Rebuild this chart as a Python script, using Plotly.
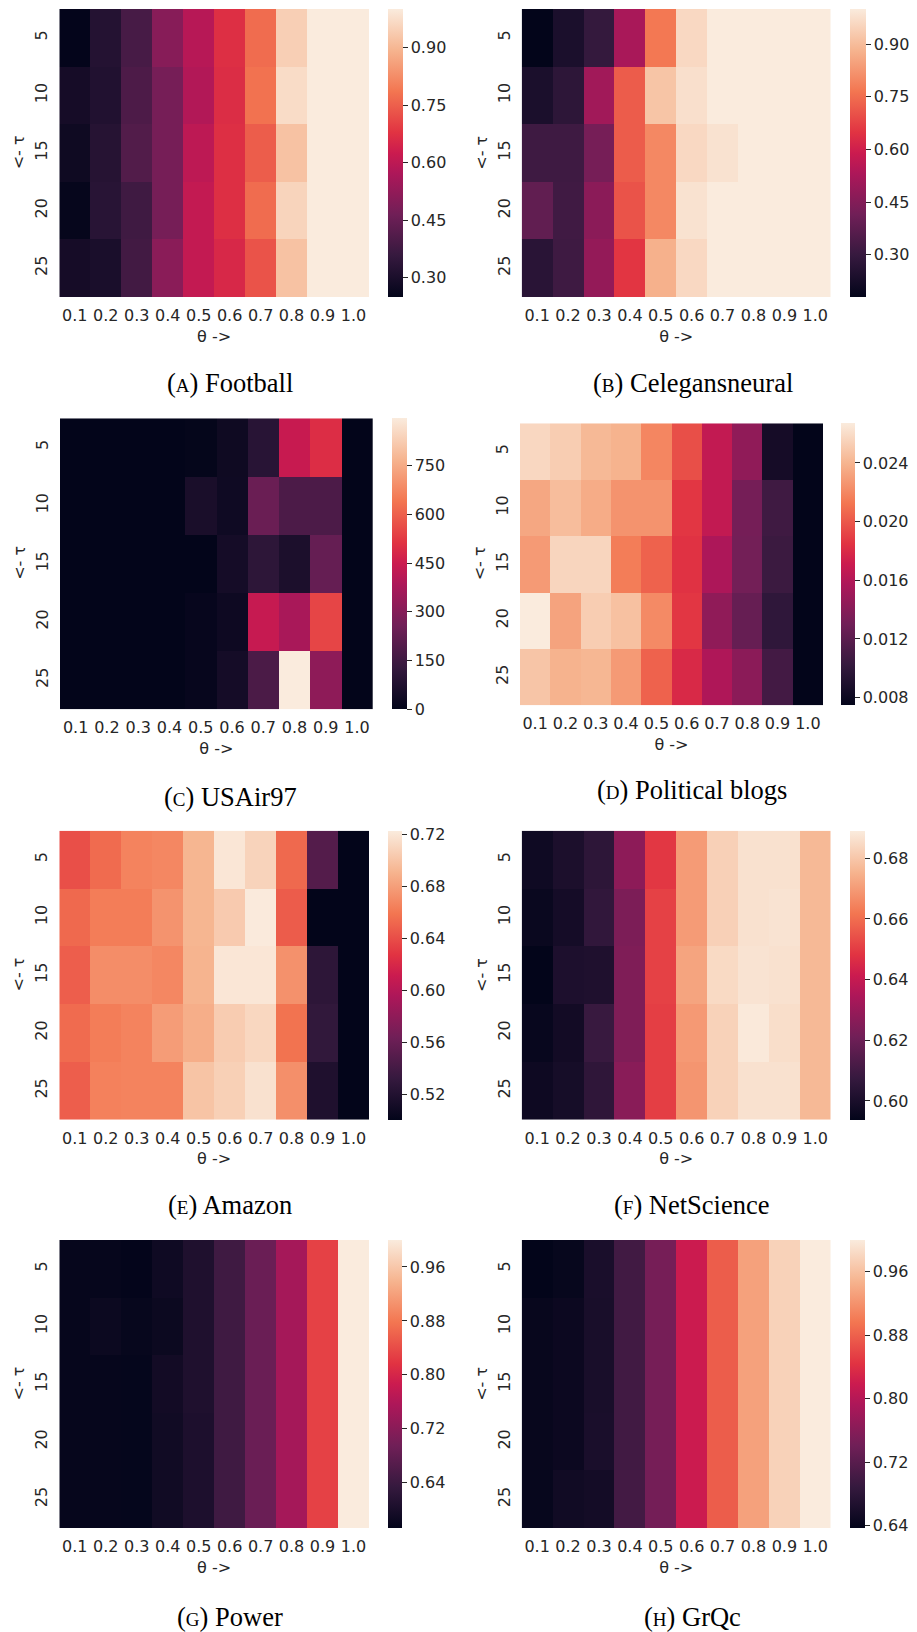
import plotly.graph_objects as go

# The page body has an 8px default margin; the figure is sized and laid out
# so that it fills the 917x1632 window exactly.
PAGE_W, PAGE_H = 917, 1632
OFF = 8
W, H = PAGE_W - OFF, PAGE_H - OFF

theta_labels = ["0.1", "0.2", "0.3", "0.4", "0.5", "0.6", "0.7", "0.8", "0.9", "1.0"]
tau_labels = ["5", "10", "15", "20", "25"]

football = [
    [0.252, 0.32, 0.39, 0.505, 0.59, 0.67, 0.77, 0.945, 1.0, 1.0],
    [0.29, 0.315, 0.40, 0.475, 0.58, 0.665, 0.78, 0.97, 1.0, 1.0],
    [0.275, 0.325, 0.41, 0.475, 0.60, 0.67, 0.745, 0.92, 1.0, 1.0],
    [0.257, 0.33, 0.375, 0.475, 0.61, 0.67, 0.77, 0.955, 1.0, 1.0],
    [0.29, 0.30, 0.38, 0.51, 0.61, 0.655, 0.73, 0.92, 1.0, 1.0],
]
celegans = [
    [0.18, 0.237, 0.295, 0.524, 0.77, 0.96, 1.0, 1.0, 1.0, 1.0],
    [0.237, 0.278, 0.508, 0.72, 0.918, 0.975, 1.0, 1.0, 1.0, 1.0],
    [0.315, 0.315, 0.426, 0.72, 0.80, 0.96, 0.98, 1.0, 1.0, 1.0],
    [0.385, 0.32, 0.467, 0.705, 0.80, 0.98, 1.0, 1.0, 1.0, 1.0],
    [0.27, 0.315, 0.483, 0.652, 0.877, 0.96, 1.0, 1.0, 1.0, 1.0],
]
usair97 = [
    [0, 0, 0, 0, 4, 30, 95, 440, 497, 0],
    [0, 0, 0, 0, 58, 31, 242, 179, 179, 0],
    [0, 0, 0, 0, 0, 45, 108, 63, 233, 0],
    [0, 0, 0, 0, 9, 27, 438, 376, 547, 0],
    [0, 0, 0, 0, 9, 45, 175, 896, 318, 0],
]
polblogs = [
    [0.0257, 0.0252, 0.0242, 0.0239, 0.0219, 0.0196, 0.0167, 0.0144, 0.0085, 0.0075],
    [0.0234, 0.0244, 0.0236, 0.0225, 0.0225, 0.0186, 0.0167, 0.0132, 0.0107, 0.0075],
    [0.0228, 0.0256, 0.0256, 0.0215, 0.0204, 0.0184, 0.0157, 0.0131, 0.0105, 0.0075],
    [0.0267, 0.0232, 0.0252, 0.0246, 0.0221, 0.0186, 0.0144, 0.0125, 0.0099, 0.0075],
    [0.0248, 0.0239, 0.0241, 0.0228, 0.0204, 0.0179, 0.0158, 0.0142, 0.0109, 0.0075],
]
amazon = [
    [0.641, 0.654, 0.666, 0.668, 0.692, 0.720, 0.709, 0.653, 0.549, 0.5005],
    [0.653, 0.663, 0.663, 0.674, 0.692, 0.704, 0.7225, 0.647, 0.5005, 0.5005],
    [0.648, 0.671, 0.671, 0.668, 0.691, 0.720, 0.720, 0.673, 0.527, 0.5005],
    [0.654, 0.663, 0.666, 0.679, 0.688, 0.705, 0.711, 0.658, 0.530, 0.5005],
    [0.648, 0.665, 0.666, 0.666, 0.700, 0.707, 0.717, 0.672, 0.518, 0.5005],
]
netscience = [
    [0.5971, 0.6005, 0.6052, 0.6276, 0.6491, 0.6700, 0.6824, 0.6867, 0.6867, 0.6767],
    [0.5957, 0.5986, 0.6062, 0.6238, 0.6510, 0.6700, 0.6824, 0.6867, 0.6872, 0.6767],
    [0.5938, 0.6009, 0.6014, 0.6243, 0.6510, 0.6719, 0.6848, 0.6872, 0.6867, 0.6767],
    [0.5952, 0.5981, 0.6081, 0.6243, 0.6505, 0.6696, 0.6829, 0.6886, 0.6858, 0.6767],
    [0.5967, 0.5990, 0.6057, 0.6267, 0.6505, 0.6686, 0.6829, 0.6867, 0.6867, 0.6767],
]
power = [
    [0.577, 0.577, 0.574, 0.588, 0.607, 0.644, 0.689, 0.748, 0.830, 1.0],
    [0.577, 0.584, 0.578, 0.584, 0.607, 0.644, 0.689, 0.748, 0.830, 1.0],
    [0.577, 0.577, 0.576, 0.592, 0.607, 0.644, 0.689, 0.748, 0.830, 1.0],
    [0.577, 0.577, 0.576, 0.590, 0.605, 0.644, 0.689, 0.748, 0.830, 1.0],
    [0.577, 0.577, 0.576, 0.590, 0.605, 0.644, 0.689, 0.748, 0.830, 1.0],
]
grqc = [
    [0.637, 0.641, 0.661, 0.699, 0.746, 0.819, 0.877, 0.932, 0.976, 1.0],
    [0.642, 0.646, 0.660, 0.699, 0.746, 0.819, 0.877, 0.932, 0.976, 1.0],
    [0.642, 0.646, 0.660, 0.699, 0.746, 0.819, 0.877, 0.932, 0.976, 1.0],
    [0.642, 0.646, 0.661, 0.699, 0.746, 0.819, 0.877, 0.932, 0.976, 1.0],
    [0.641, 0.652, 0.655, 0.701, 0.744, 0.819, 0.877, 0.932, 0.976, 1.0],
]

panel_letters = ["A", "B", "C", "D", "E", "F", "G", "H"]
panel_names = ["Football", "Celegansneural", "USAir97", "Political blogs",
               "Amazon", "NetScience", "Power", "GrQc"]
panel_data = [football, celegans, usair97, polblogs, amazon, netscience, power, grqc]
z_ranges = [(0.25, 1.0), (0.18, 1.0), (0, 896), (0.00748, 0.0267),
            (0.5005, 0.7228), (0.5938, 0.6891), (0.573, 1.0), (0.637, 1.0)]
cbar_ticks = [
    [0.30, 0.45, 0.60, 0.75, 0.90],
    [0.30, 0.45, 0.60, 0.75, 0.90],
    [0, 150, 300, 450, 600, 750],
    [0.008, 0.012, 0.016, 0.020, 0.024],
    [0.52, 0.56, 0.60, 0.64, 0.68, 0.72],
    [0.60, 0.62, 0.64, 0.66, 0.68],
    [0.64, 0.72, 0.80, 0.88, 0.96],
    [0.64, 0.72, 0.80, 0.88, 0.96],
]
cbar_formats = [".2f", ".2f", "d", ".3f", ".2f", ".2f", ".2f", ".2f"]
x_title = "θ ->"
y_title = "<- τ"

# page-pixel geometry: (heat_left, heat_right, heat_top, heat_bottom, cb_left, cb_width, caption_x, caption_y)
geom = [
    (59.3, 369.0, 9.0, 297.0, 388.0, 14.7, 230, 383),
    (521.7, 830.7, 9.0, 297.0, 849.7, 15.6, 693, 383),
    (60.0, 372.7, 418.3, 709.3, 392.3, 15.0, 230, 797),
    (520.0, 823.0, 423.3, 705.3, 841.3, 14.4, 692, 790),
    (59.3, 369.0, 830.7, 1119.7, 388.3, 14.4, 230, 1205),
    (521.7, 830.7, 830.7, 1119.7, 850.3, 15.0, 692, 1205),
    (59.3, 369.0, 1240.0, 1528.3, 388.3, 14.4, 230, 1617),
    (521.7, 830.7, 1240.0, 1528.3, 850.3, 15.0, 692, 1617),
]

rocket = [
    [0.0, "#03051a"],
    [0.1429, "#35193e"],
    [0.2857, "#701f57"],
    [0.4286, "#ad1759"],
    [0.5, "#cb1b4f"],
    [0.5714, "#e13342"],
    [0.7143, "#f37651"],
    [0.8571, "#f6b48f"],
    [1.0, "#faebdd"],
]

TICK_COLOR = "#262626"
FONT = "DejaVu Sans"


def fx(px):
    return (px - OFF) / W


def fy(py):
    return 1 - (py - OFF) / H


fig = go.Figure()
annotations = []
layout_axes = {}

for i in range(8):
    hl, hr, ht, hb, cbl, cbw, capx, capy = geom[i]
    zmin, zmax = z_ranges[i]
    sfx = "" if i == 0 else str(i + 1)
    fig.add_trace(go.Heatmap(
        z=panel_data[i], x=theta_labels, y=tau_labels,
        colorscale=rocket, zmin=zmin, zmax=zmax,
        xaxis="x" + sfx, yaxis="y" + sfx,
        colorbar=dict(
            x=fx(cbl), xanchor="left", xpad=0,
            y=fy(ht), yanchor="top", ypad=0,
            len=hb - ht, lenmode="pixels",
            thickness=cbw, thicknessmode="pixels",
            outlinewidth=0,
            tickvals=cbar_ticks[i], tickformat=cbar_formats[i],
            ticks="outside", ticklen=5, tickwidth=1, tickcolor=TICK_COLOR,
            tickfont=dict(family=FONT, size=16, color=TICK_COLOR),
        ),
    ))
    layout_axes["xaxis" + sfx] = dict(
        domain=[fx(hl), fx(hr)], anchor="y" + sfx,
        type="category", showgrid=False, zeroline=False, showline=False,
        ticks="", ticklabelstandoff=7,
        tickfont=dict(family=FONT, size=16, color=TICK_COLOR),
        title=dict(text=x_title, font=dict(family=FONT, size=16, color=TICK_COLOR), standoff=6),
        fixedrange=True,
    )
    layout_axes["yaxis" + sfx] = dict(
        domain=[fy(hb), fy(ht)], anchor="x" + sfx,
        type="category", autorange="reversed",
        showgrid=False, zeroline=False, showline=False,
        ticks="", tickangle=-90, ticklabelstandoff=8,
        tickfont=dict(family=FONT, size=16, color=TICK_COLOR),
        fixedrange=True,
    )
    # y-axis title, rotated, placed beside the rotated tick labels
    annotations.append(dict(
        text=y_title, textangle=-90,
        x=fx(hl - 40.5), y=fy((ht + hb) / 2 - 0.5), xref="paper", yref="paper",
        xanchor="center", yanchor="middle", showarrow=False,
        font=dict(family=FONT, size=16, color=TICK_COLOR),
    ))
    annotations.append(dict(
        text="(<span style='font-size:19px'>" + panel_letters[i] + "</span>) " + panel_names[i],
        x=fx(capx), y=fy(capy), xref="paper", yref="paper",
        xanchor="center", yanchor="middle", showarrow=False,
        font=dict(family="Liberation Serif", size=26.5, color="black"),
    ))

fig.update_layout(
    width=W, height=H,
    margin=dict(l=0, r=0, t=0, b=0, autoexpand=False),
    paper_bgcolor="white", plot_bgcolor="white",
    showlegend=False,
    annotations=annotations,
    **layout_axes,
)

fig.write_html("out.html")
